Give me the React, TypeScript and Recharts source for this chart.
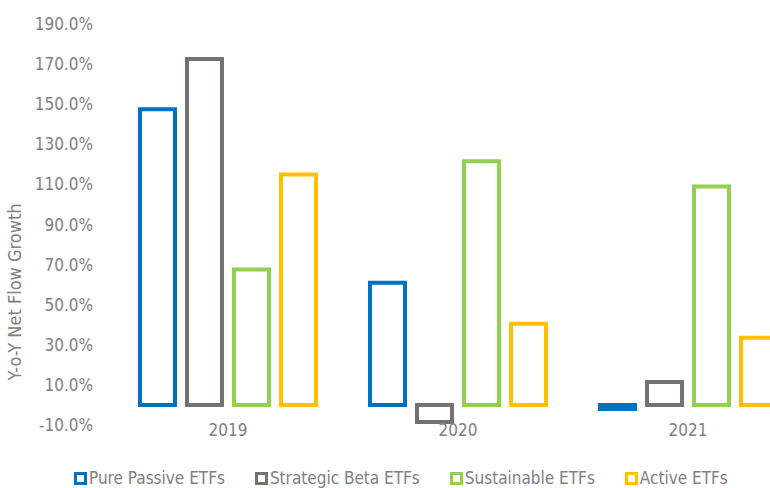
import { BarChart, Bar, XAxis, YAxis, Legend } from "recharts";

const years = ["2019", "2020", "2021"];
const purePassive = [147.5, 61, -2];
const strategicBeta = [172.5, -8.5, 11.5];
const sustainable = [67.5, 121.5, 109];
const active = [115, 40.5, 33.5];
const yTicks = [-10, 10, 30, 50, 70, 90, 110, 130, 150, 170, 190];

const series = [
  { key: "purePassive", name: "Pure Passive ETFs", color: "#0070C0" },
  { key: "strategicBeta", name: "Strategic Beta ETFs", color: "#767171" },
  { key: "sustainable", name: "Sustainable ETFs", color: "#92D050" },
  { key: "active", name: "Active ETFs", color: "#FFC000" },
];

const data = years.map((year, i) => ({
  year,
  purePassive: purePassive[i],
  strategicBeta: strategicBeta[i],
  sustainable: sustainable[i],
  active: active[i],
}));

const font = "'Liberation Sans Narrow', 'DejaVu Sans Condensed', 'Roboto Condensed', 'Arial Narrow', sans-serif";
const textColor = "#808080";

function LegendContent() {
  return (
    <div
      style={{
        display: "flex",
        height: 20,
        lineHeight: "20px",
        paddingLeft: 74,
        fontFamily: font,
        fontSize: 17,
        color: textColor,
      }}
    >
      {series.map((s, i) => (
        <div
          key={s.key}
          style={{ display: "flex", alignItems: "center", marginRight: i === 3 ? 0 : 30 }}
        >
          <span
            style={{
              display: "inline-block",
              width: 7,
              height: 7,
              border: `3px solid ${s.color}`,
              background: "#fff",
              marginRight: 2,
            }}
          />
          <span>{s.name}</span>
        </div>
      ))}
    </div>
  );
}

export default function App() {
  return (
    <div
      style={{
        position: "absolute",
        left: 0,
        top: 0,
        width: 770,
        height: 488,
        overflow: "hidden",
        background: "#fff",
      }}
    >
      <BarChart
        width={810}
        height={488}
        data={data}
        margin={{ top: 24, right: 7, bottom: 0, left: 0 }}
        barCategoryGap="12%"
        barGap={12}
      >
        <XAxis
          dataKey="year"
          axisLine={false}
          tickLine={false}
          tickSize={0}
          tickMargin={0}
          height={43}
          tick={{ fill: textColor, fontSize: 17, fontFamily: font, dy: -1 }}
        />
        <YAxis
          width={113}
          domain={[-10, 190]}
          ticks={yTicks}
          interval={0}
          axisLine={false}
          tickLine={false}
          tickSize={0}
          tickMargin={20}
          tickFormatter={(v: number) => `${v.toFixed(1)}%`}
          tick={{ fill: textColor, fontSize: 17, fontFamily: font }}
          label={{
            content: () => (
              <text
                x={15}
                y={292}
                transform="rotate(-90, 15, 292)"
                textAnchor="middle"
                dominantBaseline="central"
                fill={textColor}
                fontSize={17}
                fontFamily={font}
                textLength={177}
                lengthAdjust="spacingAndGlyphs"
              >
                Y-o-Y Net Flow Growth
              </text>
            ),
          }}
        />
        <Legend
          verticalAlign="bottom"
          align="left"
          content={<LegendContent />}
          wrapperStyle={{ bottom: 0, left: 0, width: 770 }}
        />
        {series.map((s) => (
          <Bar
            key={s.key}
            dataKey={s.key}
            name={s.name}
            fill="#fff"
            stroke={s.color}
            strokeWidth={4}
            barSize={35}
            isAnimationActive={false}
          />
        ))}
      </BarChart>
    </div>
  );
}
